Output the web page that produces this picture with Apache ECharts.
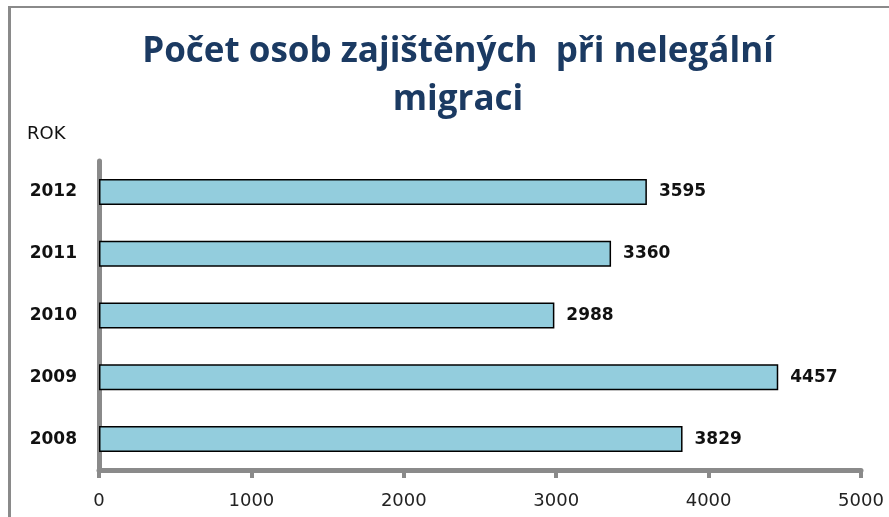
<!DOCTYPE html>
<html>
<head>
<meta charset="utf-8">
<script src="https://cdn.jsdelivr.net/npm/echarts@6/dist/echarts.min.js"></script>
<style>
  html, body { margin: 0; padding: 0; background: #fff; overflow: hidden; }
  #frame { position: absolute; left: 8px; top: 6px; width: 1000px; height: 1000px;
           border-left: 3px solid #8a8a8a; border-top: 2px solid #8a8a8a; }
  #container { position: absolute; left: 0; top: 0; width: 889px; height: 517px; }
</style>
</head>
<body>
<div id="frame"></div>
<div id="container"></div>
<script>
const years = ['2008', '2009', '2010', '2011', '2012']
const persons = [3829, 4457, 2988, 3360, 3595]
const xTicks = [0, 1000, 2000, 3000, 4000, 5000]

const myChart = echarts.init(document.getElementById('container'))

myChart.setOption({
  animation: false,
  title: {
    text: 'Počet osob zajištěných  při nelegální\nmigraci',
    left: 453,
    top: 23,
    textAlign: 'center',
    textStyle: {
      fontFamily: 'Open Sans',
      fontWeight: 'bold',
      fontSize: 35,
      lineHeight: 48,
      color: '#1b3a62'
    }
  },
  graphic: [{
    type: 'text',
    left: 27,
    top: 125,
    style: {
      text: 'ROK',
      font: '18px "DejaVu Sans"',
      fill: '#111'
    }
  }],
  grid: {
    top: 161,
    left: 99,
    right: 28,
    bottom: 47
  },
  xAxis: {
    type: 'value',
    min: xTicks[0],
    max: xTicks[xTicks.length - 1],
    interval: 1000,
    axisLine: { show: true, lineStyle: { color: '#8a8a8a', width: 5 } },
    axisTick: { show: true, length: 8, lineStyle: { color: '#8a8a8a', width: 4 } },
    splitLine: { show: false },
    axisLabel: {
      margin: 22,
      fontFamily: 'DejaVu Sans',
      fontSize: 18,
      color: '#222',
      formatter: v => String(v)
    }
  },
  yAxis: {
    type: 'category',
    data: years,
    axisLine: { show: true, lineStyle: { color: '#8a8a8a', width: 5 } },
    axisTick: { show: false },
    axisLabel: {
      margin: 22,
      fontFamily: 'DejaVu Sans',
      fontWeight: 'bold',
      fontSize: 17,
      color: '#111'
    }
  },
  series: [{
    type: 'bar',
    data: persons,
    barWidth: 26,
    itemStyle: {
      color: '#93cddd',
      borderColor: '#000',
      borderWidth: 1.5
    },
    label: {
      show: true,
      position: 'right',
      distance: 12,
      fontFamily: 'DejaVu Sans',
      fontWeight: 'bold',
      fontSize: 17,
      color: '#111'
    }
  }]
})
</script>
</body>
</html>
